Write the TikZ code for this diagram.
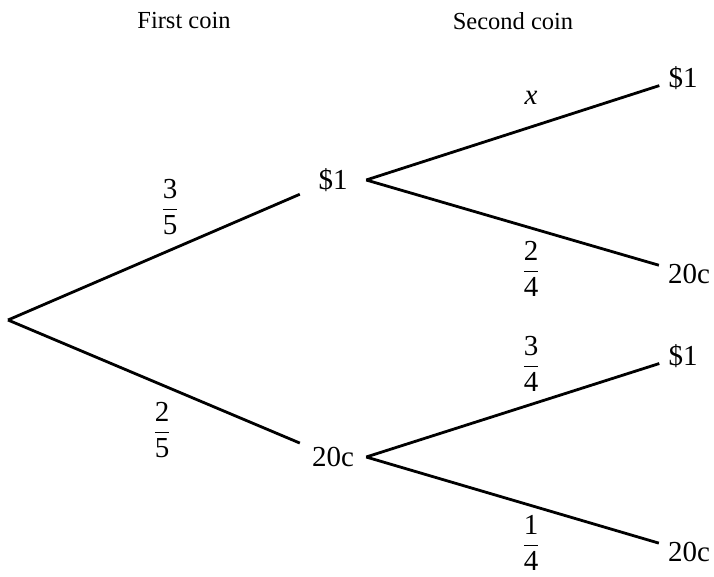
\documentclass[tikz,border=0pt]{standalone}
\usepackage{amsmath}
\usepackage{fontspec}
\setmainfont{Liberation Serif}
\newcommand{\myfrac}[2]{$\genfrac{}{}{1.6pt}{0}{\mbox{#1}}{\mbox{#2}}$}
\begin{document}
\begin{tikzpicture}[x=1pt,y=-1pt,
  every node/.style={font=\fontsize{29}{34}\selectfont},
  head/.style={font=\fontsize{24.5}{29}\selectfont},
  branch/.style={line width=2.8pt},
  mid/.style={minimum width=66pt,minimum height=30pt,inner sep=0pt},
  leaf/.style={inner sep=9pt}]
\useasboundingbox (0,0) rectangle (714,576);
\node[head] (h1) at (184,21) {First coin};
\node[head] (h2) at (513,21) {Second coin};
\coordinate (root) at (8,320);
\node[mid] (A) at (333,180) {\$1};
\node[mid] (B) at (333,457) {20c};
\node[leaf] (A1) at (683,78) {\$1};
\node[leaf] (A2) at (689,274) {20c};
\node[leaf] (B1) at (683,356) {\$1};
\node[leaf] (B2) at (689,552) {20c};
\draw[branch] (root) -- (A);
\draw[branch] (root) -- (B);
\draw[branch] (A.east) -- (A1);
\draw[branch] (A.east) -- (A2);
\draw[branch] (B.east) -- (B1);
\draw[branch] (B.east) -- (B2);
\node (f1) at (170,207) {\myfrac{3}{5}};
\node (f2) at (162,430) {\myfrac{2}{5}};
\node (fx) at (531,98) {\textit{x}};
\node (f3) at (531,269) {\myfrac{2}{4}};
\node (f4) at (531,364) {\myfrac{3}{4}};
\node (f5) at (531,543) {\myfrac{1}{4}};
\end{tikzpicture}
\end{document}
